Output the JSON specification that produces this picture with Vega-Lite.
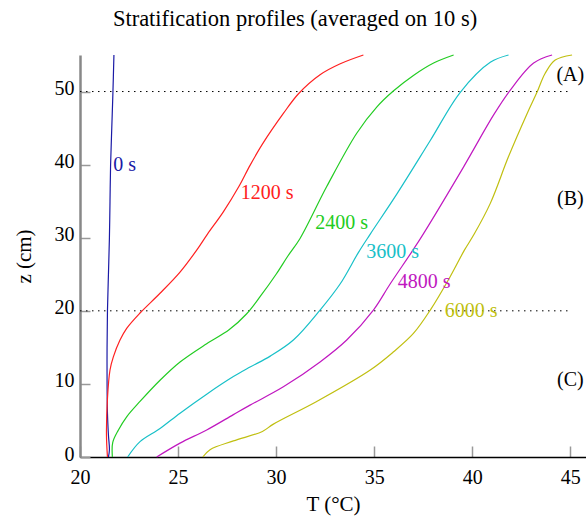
{
  "$schema": "https://vega.github.io/schema/vega-lite/v6.json",
  "width": 506,
  "height": 402,
  "autosize": {"type": "none"},
  "padding": {"left": 80, "top": 55, "right": 0, "bottom": 63},
  "background": "white",
  "title": {"text": "Stratification profiles (averaged on 10 s)", "font": "Liberation Serif", "fontSize": 22.5, "fontWeight": "normal", "color": "black", "anchor": "middle", "dx": -38, "offset": 22},
  "config": {
    "view": {"stroke": null},
    "axis": {"labelFont": "Liberation Serif", "labelFontSize": 20, "labelColor": "black", "labelFlush": false, "titleFont": "Liberation Serif", "titleFontSize": 21, "titleFontWeight": "normal", "titleColor": "black", "grid": false}
  },
  "datasets": {
    "curves": [
      {"s": "0 s", "i": 0, "T": 21.45, "z": 0}, {"s": "0 s", "i": 1, "T": 21.5, "z": 1}, {"s": "0 s", "i": 2, "T": 21.45, "z": 3}, {"s": "0 s", "i": 3, "T": 21.4, "z": 6}, {"s": "0 s", "i": 4, "T": 21.38, "z": 10}, {"s": "0 s", "i": 5, "T": 21.38, "z": 15}, {"s": "0 s", "i": 6, "T": 21.4, "z": 20}, {"s": "0 s", "i": 7, "T": 21.45, "z": 25}, {"s": "0 s", "i": 8, "T": 21.5, "z": 30}, {"s": "0 s", "i": 9, "T": 21.53, "z": 35}, {"s": "0 s", "i": 10, "T": 21.56, "z": 40}, {"s": "0 s", "i": 11, "T": 21.62, "z": 45}, {"s": "0 s", "i": 12, "T": 21.68, "z": 50}, {"s": "0 s", "i": 13, "T": 21.73, "z": 55},

      {"s": "1200 s", "i": 0, "T": 21.4, "z": 0}, {"s": "1200 s", "i": 1, "T": 21.35, "z": 3}, {"s": "1200 s", "i": 2, "T": 21.4, "z": 8}, {"s": "1200 s", "i": 3, "T": 21.53, "z": 11.9}, {"s": "1200 s", "i": 4, "T": 21.7, "z": 13.7}, {"s": "1200 s", "i": 5, "T": 22.04, "z": 16}, {"s": "1200 s", "i": 6, "T": 22.38, "z": 17.6}, {"s": "1200 s", "i": 7, "T": 23.06, "z": 19.7}, {"s": "1200 s", "i": 8, "T": 24.08, "z": 22.4}, {"s": "1200 s", "i": 9, "T": 25.1, "z": 25.3}, {"s": "1200 s", "i": 10, "T": 25.95, "z": 28.3}, {"s": "1200 s", "i": 11, "T": 26.5, "z": 30.5}, {"s": "1200 s", "i": 12, "T": 27.3, "z": 33.5}, {"s": "1200 s", "i": 13, "T": 28.1, "z": 37}, {"s": "1200 s", "i": 14, "T": 28.67, "z": 39.9}, {"s": "1200 s", "i": 15, "T": 29.3, "z": 42.8}, {"s": "1200 s", "i": 16, "T": 30.37, "z": 47}, {"s": "1200 s", "i": 17, "T": 31.14, "z": 49.7}, {"s": "1200 s", "i": 18, "T": 32.24, "z": 52.3}, {"s": "1200 s", "i": 19, "T": 33.27, "z": 53.8}, {"s": "1200 s", "i": 20, "T": 34.45, "z": 55},

      {"s": "2400 s", "i": 0, "T": 21.65, "z": 0}, {"s": "2400 s", "i": 1, "T": 21.67, "z": 2}, {"s": "2400 s", "i": 2, "T": 21.96, "z": 3.7}, {"s": "2400 s", "i": 3, "T": 22.38, "z": 5.5}, {"s": "2400 s", "i": 4, "T": 23.06, "z": 7.6}, {"s": "2400 s", "i": 5, "T": 24.08, "z": 10.5}, {"s": "2400 s", "i": 6, "T": 25.1, "z": 13}, {"s": "2400 s", "i": 7, "T": 26.46, "z": 15.5}, {"s": "2400 s", "i": 8, "T": 27.6, "z": 17.4}, {"s": "2400 s", "i": 9, "T": 28.5, "z": 19.6}, {"s": "2400 s", "i": 10, "T": 29.2, "z": 22}, {"s": "2400 s", "i": 11, "T": 30.0, "z": 25}, {"s": "2400 s", "i": 12, "T": 30.6, "z": 27.5}, {"s": "2400 s", "i": 13, "T": 31.22, "z": 29.9}, {"s": "2400 s", "i": 14, "T": 32.58, "z": 37}, {"s": "2400 s", "i": 15, "T": 34.11, "z": 44.3}, {"s": "2400 s", "i": 16, "T": 35.14, "z": 47.9}, {"s": "2400 s", "i": 17, "T": 35.99, "z": 50.1}, {"s": "2400 s", "i": 18, "T": 37.0, "z": 52.2}, {"s": "2400 s", "i": 19, "T": 38.03, "z": 53.9}, {"s": "2400 s", "i": 20, "T": 39.05, "z": 55},

      {"s": "3600 s", "i": 0, "T": 22.43, "z": 0}, {"s": "3600 s", "i": 1, "T": 23.06, "z": 2.1}, {"s": "3600 s", "i": 2, "T": 24.08, "z": 3.9}, {"s": "3600 s", "i": 3, "T": 25.1, "z": 6.0}, {"s": "3600 s", "i": 4, "T": 26.46, "z": 8.6}, {"s": "3600 s", "i": 5, "T": 27.82, "z": 11.0}, {"s": "3600 s", "i": 6, "T": 28.67, "z": 12.3}, {"s": "3600 s", "i": 7, "T": 29.7, "z": 13.8}, {"s": "3600 s", "i": 8, "T": 30.88, "z": 16}, {"s": "3600 s", "i": 9, "T": 32.24, "z": 20.1}, {"s": "3600 s", "i": 10, "T": 33.27, "z": 23.7}, {"s": "3600 s", "i": 11, "T": 34.2, "z": 28.0}, {"s": "3600 s", "i": 12, "T": 34.8, "z": 30.5}, {"s": "3600 s", "i": 13, "T": 36.16, "z": 36}, {"s": "3600 s", "i": 14, "T": 37.86, "z": 43.3}, {"s": "3600 s", "i": 15, "T": 39.39, "z": 49.9}, {"s": "3600 s", "i": 16, "T": 40.92, "z": 54}, {"s": "3600 s", "i": 17, "T": 41.85, "z": 55},

      {"s": "4800 s", "i": 0, "T": 23.91, "z": 0}, {"s": "4800 s", "i": 1, "T": 25.1, "z": 1.9}, {"s": "4800 s", "i": 2, "T": 26.46, "z": 3.7}, {"s": "4800 s", "i": 3, "T": 27.82, "z": 5.8}, {"s": "4800 s", "i": 4, "T": 28.67, "z": 7.1}, {"s": "4800 s", "i": 5, "T": 30.37, "z": 9.6}, {"s": "4800 s", "i": 6, "T": 32.24, "z": 13.0}, {"s": "4800 s", "i": 7, "T": 33.6, "z": 16.0}, {"s": "4800 s", "i": 8, "T": 34.96, "z": 20.1}, {"s": "4800 s", "i": 9, "T": 35.82, "z": 23.7}, {"s": "4800 s", "i": 10, "T": 36.9, "z": 28.0}, {"s": "4800 s", "i": 11, "T": 37.5, "z": 30.5}, {"s": "4800 s", "i": 12, "T": 39.56, "z": 39.7}, {"s": "4800 s", "i": 13, "T": 41.09, "z": 46.8}, {"s": "4800 s", "i": 14, "T": 41.94, "z": 50.2}, {"s": "4800 s", "i": 15, "T": 43.13, "z": 53.9}, {"s": "4800 s", "i": 16, "T": 44.07, "z": 55},

      {"s": "6000 s", "i": 0, "T": 26.26, "z": 0}, {"s": "6000 s", "i": 1, "T": 26.63, "z": 1}, {"s": "6000 s", "i": 2, "T": 27.82, "z": 2.2}, {"s": "6000 s", "i": 3, "T": 29.3, "z": 3.5}, {"s": "6000 s", "i": 4, "T": 29.86, "z": 4.5}, {"s": "6000 s", "i": 5, "T": 32.07, "z": 7.6}, {"s": "6000 s", "i": 6, "T": 34.8, "z": 11.9}, {"s": "6000 s", "i": 7, "T": 35.99, "z": 14.4}, {"s": "6000 s", "i": 8, "T": 37.0, "z": 16.9}, {"s": "6000 s", "i": 9, "T": 37.86, "z": 20.1}, {"s": "6000 s", "i": 10, "T": 38.88, "z": 24.7}, {"s": "6000 s", "i": 11, "T": 39.6, "z": 28.3}, {"s": "6000 s", "i": 12, "T": 40.1, "z": 30.5}, {"s": "6000 s", "i": 13, "T": 40.92, "z": 34.7}, {"s": "6000 s", "i": 14, "T": 41.85, "z": 41.1}, {"s": "6000 s", "i": 15, "T": 42.8, "z": 47.0}, {"s": "6000 s", "i": 16, "T": 43.3, "z": 49.9}, {"s": "6000 s", "i": 17, "T": 43.72, "z": 52.5}, {"s": "6000 s", "i": 18, "T": 44.23, "z": 54.3}, {"s": "6000 s", "i": 19, "T": 45.09, "z": 55}
    ],
    "labels": [
      {"s": "0 s", "T": 21.7, "z": 39.9},
      {"s": "1200 s", "T": 28.2, "z": 36.1},
      {"s": "2400 s", "T": 32.0, "z": 32.0},
      {"s": "3600 s", "T": 34.6, "z": 28.0},
      {"s": "4800 s", "T": 36.2, "z": 24.0},
      {"s": "6000 s", "T": 38.6, "z": 20.0}
    ],
    "rules": [{"z": 50, "a": 20, "b": 44.9}, {"z": 20, "a": 20, "b": 44.9}],
    "regions": [{"t": "(A)", "T": 45.0, "z": 52.3}, {"t": "(B)", "T": 45.0, "z": 35.3}, {"t": "(C)", "T": 45.0, "z": 10.5}]
  },
  "layer": [
    {
      "data": {"name": "rules"},
      "mark": {"type": "rule", "stroke": "black", "strokeWidth": 1, "strokeDash": [1.5, 4.5]},
      "encoding": {
        "x": {"field": "a", "type": "quantitative", "scale": {"domain": [20, 45.8], "nice": false, "zero": false},
              "axis": {"title": "T (°C)", "values": [20, 25, 30, 35, 40, 45], "domainColor": "black", "domainWidth": 1.5, "tickColor": "#999999", "tickWidth": 1.5, "tickSize": -11, "labelPadding": 21, "titlePadding": 6}},
        "x2": {"field": "b"},
        "y": {"field": "z", "type": "quantitative", "scale": {"domain": [0, 55], "nice": false},
              "axis": {"title": "z (cm)", "values": [0, 10, 20, 30, 40, 50], "domainColor": "#888888", "domainWidth": 2.5, "tickColor": "#999999", "tickWidth": 1.5, "tickSize": -10, "labelPadding": 16, "labelOffset": -3, "titlePadding": 20}}
      }
    },
    {
      "data": {"name": "curves"},
      "mark": {"type": "line", "strokeWidth": 1.2, "interpolate": "catmull-rom"},
      "encoding": {
        "x": {"field": "T", "type": "quantitative"},
        "y": {"field": "z", "type": "quantitative"},
        "order": {"field": "i", "type": "quantitative"},
        "color": {"field": "s", "type": "nominal", "legend": null,
                  "scale": {"domain": ["0 s", "1200 s", "2400 s", "3600 s", "4800 s", "6000 s"], "range": ["#1a1aa6", "#ff2020", "#22cc22", "#18c0c8", "#c018c0", "#c0bf10"]}}
      }
    },
    {
      "data": {"name": "labels"},
      "mark": {"type": "text", "font": "Liberation Serif", "fontSize": 20, "align": "left", "baseline": "middle"},
      "encoding": {
        "x": {"field": "T", "type": "quantitative"},
        "y": {"field": "z", "type": "quantitative"},
        "text": {"field": "s"},
        "color": {"field": "s", "type": "nominal", "legend": null}
      }
    },
    {
      "data": {"name": "regions"},
      "mark": {"type": "text", "font": "Liberation Serif", "fontSize": 20, "align": "center", "baseline": "middle", "color": "black"},
      "encoding": {
        "x": {"field": "T", "type": "quantitative"},
        "y": {"field": "z", "type": "quantitative"},
        "text": {"field": "t"}
      }
    }
  ]
}
